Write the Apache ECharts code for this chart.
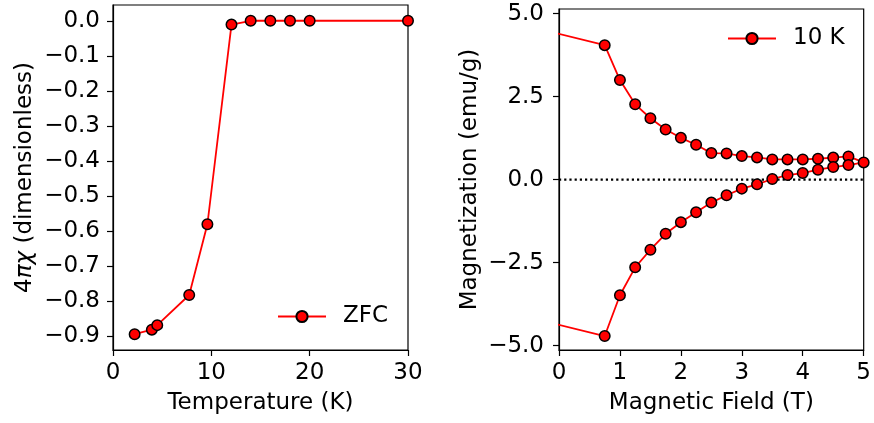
<!DOCTYPE html>
<html><head><meta charset="utf-8">
<script src="https://cdn.jsdelivr.net/npm/echarts@6/dist/echarts.min.js"></script>
<style>html,body{margin:0;padding:0;background:#fff}#c{width:874px;height:423px}</style>
</head><body><div id="c"></div>
<script>
// ---- Left panel: ZFC susceptibility ----
const tempK = [2.2, 3.95, 4.5, 7.75, 9.6, 12.05, 14, 16, 18, 20, 30];
const chi = [-0.895, -0.882, -0.869, -0.783, -0.581, -0.011, 0, 0, 0, 0, 0];
const tempTicks = [0, 10, 20, 30];
const chiTicks = [-0.9, -0.8, -0.7, -0.6, -0.5, -0.4, -0.3, -0.2, -0.1, 0];

// ---- Right panel: M(H) loop at 10 K ----
const fieldTop = [-0.75, 0.75, 1.0, 1.25, 1.5, 1.75, 2.0, 2.25, 2.5, 2.75, 3.0, 3.25, 3.5, 3.75, 4.0, 4.25, 4.5, 4.75, 5.0];
const magTop = [4.73, 4.05, 3.0, 2.27, 1.85, 1.51, 1.26, 1.05, 0.80, 0.79, 0.71, 0.67, 0.61, 0.61, 0.61, 0.63, 0.665, 0.70, 0.52];
const fieldBottom = [4.75, 4.5, 4.25, 4.0, 3.75, 3.5, 3.25, 3.0, 2.75, 2.5, 2.25, 2.0, 1.75, 1.5, 1.25, 1.0, 0.75, -0.75];
const magBottom = [0.44, 0.38, 0.30, 0.20, 0.14, 0.02, -0.14, -0.27, -0.47, -0.69, -0.98, -1.28, -1.63, -2.11, -2.64, -3.48, -4.71, -4.04];
const fieldTicks = [0, 1, 2, 3, 4, 5];
const magTicks = [-5, -2.5, 0, 2.5, 5];
const zeroLineField = [0, 5];

const FONT = 'DejaVu Sans';
const FS = 23;
function fmt1(v) { return (v < 0 ? '\u2212' : '') + Math.abs(v).toFixed(1); }

const chart = echarts.init(document.getElementById('c'), null, {renderer: 'canvas'});

const AX = '#000';
function baseAxis(extra) {
  return Object.assign({
    type: 'value',
    axisLine: {show: true, onZero: false, lineStyle: {color: AX, width: 1.2}},
    splitLine: {show: false},
    nameLocation: 'middle',
    nameTextStyle: {color: '#000', fontSize: FS, fontFamily: FONT}
  }, extra);
}
function ticks(vals) { return {show: true, inside: false, length: 6, lineStyle: {color: AX, width: 1.2}, customValues: vals}; }
function labels(vals, margin, fmt) {
  const o = {color: '#000', fontSize: FS, fontFamily: FONT, margin: margin, customValues: vals};
  if (fmt) o.formatter = fmt;
  return o;
}

const markerStyle = {color: '#ff0000', borderColor: '#000', borderWidth: 1.5};

const option = {
  animation: false,
  backgroundColor: '#fff',
  grid: [
    {left: 113, top: 5, width: 295, height: 345, show: true, borderColor: AX, borderWidth: 1.2, containLabel: false},
    {left: 559, top: 9, width: 305, height: 341, show: true, borderColor: AX, borderWidth: 1.2, containLabel: false}
  ],
  xAxis: [
    baseAxis({gridIndex: 0, min: 0, max: 30, axisTick: ticks(tempTicks), axisLabel: labels(tempTicks, 12),
      name: 'Temperature (K)', nameGap: 42}),
    baseAxis({gridIndex: 1, min: 0, max: 5, axisTick: ticks(fieldTicks), axisLabel: labels(fieldTicks, 12),
      name: 'Magnetic Field (T)', nameGap: 42})
  ],
  yAxis: [
    baseAxis({gridIndex: 0, min: -0.94, max: 0.045, axisTick: ticks(chiTicks), axisLabel: labels(chiTicks, 13, fmt1),
      name: '{n|4}{i|πχ}{n| (dimensionless)}', nameGap: 76,
      nameTextStyle: {color: '#000', fontSize: FS, fontFamily: FONT,
        rich: {n: {color: '#000', fontSize: FS, fontFamily: FONT},
               i: {color: '#000', fontSize: FS, fontFamily: FONT, fontStyle: 'italic'}}}}),
    baseAxis({gridIndex: 1, min: -5.13, max: 5.14, axisTick: ticks(magTicks), axisLabel: labels(magTicks, 15, fmt1),
      name: 'Magnetization (emu/g)', nameGap: 77})
  ],
  legend: [
    {data: ['ZFC'], left: 277, top: 305, itemWidth: 48, itemHeight: 14, padding: 0,
     textStyle: {color: '#000', fontSize: FS, fontFamily: FONT, padding: [0, 0, 0, 12]}},
    {data: ['10 K'], left: 727, top: 27, itemWidth: 48, itemHeight: 14, padding: 0,
     textStyle: {color: '#000', fontSize: FS, fontFamily: FONT, padding: [0, 0, 0, 12]}}
  ],
  series: [
    {
      name: 'ZFC', type: 'line', xAxisIndex: 0, yAxisIndex: 0,
      data: tempK.map((t, i) => [t, chi[i]]),
      symbol: 'circle', symbolSize: 10.5, showAllSymbol: true, clip: true,
      lineStyle: {color: '#ff0000', width: 1.8},
      itemStyle: markerStyle, z: 3
    },
    {
      name: 'zero', type: 'line', xAxisIndex: 1, yAxisIndex: 1,
      data: zeroLineField.map(x => [x, 0]),
      symbol: 'none', silent: true,
      lineStyle: {color: '#000', width: 2.2, type: [2.2, 3]}, z: 1
    },
    {
      name: '10 K', type: 'line', xAxisIndex: 1, yAxisIndex: 1,
      data: fieldTop.map((f, i) => [f, magTop[i]]).concat(fieldBottom.map((f, i) => [f, magBottom[i]])),
      symbol: 'circle', symbolSize: 10.5, showAllSymbol: true, clip: true,
      lineStyle: {color: '#ff0000', width: 1.8},
      itemStyle: markerStyle, z: 3
    }
  ]
};
chart.setOption(option);
</script>
</body></html>
